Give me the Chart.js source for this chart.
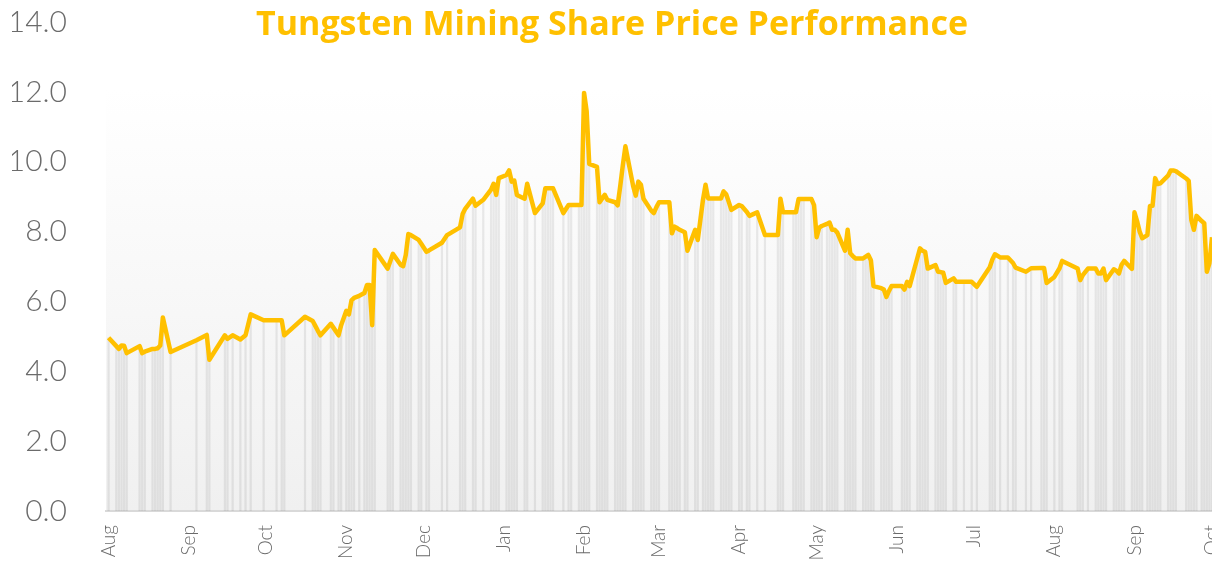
<!DOCTYPE html>
<html>
<head>
<meta charset="utf-8">
<script src="https://cdn.jsdelivr.net/npm/chart.js@4.4.1/dist/chart.umd.min.js"></script>
<style>
  html, body { margin: 0; padding: 0; background: #fff; overflow: hidden; }
  #wrap { position: relative; width: 1212px; height: 565px; }
</style>
</head>
<body>
<div id="wrap"><canvas id="priceChart"></canvas></div>
<script>
// days counted from 1 Aug, one entry per trading day shown in the chart
var days = [
  0, 3, 4, 5, 6, 7, 12, 13, 14, 17, 18, 19, 20, 21, 24,
  34, 38, 39, 45, 46, 48, 51, 53, 55, 60,
  65, 67, 68, 76, 79, 80, 81, 82, 86, 87, 89, 90,
  92, 93, 94, 95, 97, 99, 100, 101, 102, 103, 108, 109, 110, 113, 114, 115, 116, 117, 120, 121,
  123, 124, 129, 131, 136, 137, 138, 141, 142, 145, 148, 149, 150, 151,
  154, 155, 156, 157, 158, 161, 162, 165, 168, 169, 170, 171, 172, 176, 178, 179, 182, 183,
  184, 185, 186, 189, 190, 191, 192, 193, 196, 197, 198, 199, 200, 203, 204, 205, 206, 207, 210, 211, 212,
  213, 217, 218, 219, 220, 221, 223, 224, 227, 228, 230, 231, 232, 233, 234, 237, 238, 239, 240, 241,
  244, 245, 247, 248, 251, 254, 259, 260, 261, 265, 266, 267, 268, 269, 272, 273,
  274, 275, 276, 278, 279, 280, 281, 282, 285, 286, 287, 288, 289, 292, 293, 294, 295, 296, 299, 300, 301, 302, 303,
  307, 308, 309, 310, 313, 314, 315, 316, 317, 320, 321, 322, 323, 324, 327, 328, 331, 334,
  336, 341, 342, 343, 345, 348, 350, 351, 355, 357, 361, 362, 363,
  366, 368, 369, 375, 376, 377, 379, 382, 383, 384, 385, 386, 389, 390, 391, 392, 393, 396,
  397, 398, 399, 400, 402, 403, 404, 405, 406, 407, 410, 411, 412, 413, 417, 418, 419, 420, 421, 423, 424, 425, 426, 427
];

var prices = [
  4.96, 4.72, 4.64, 4.74, 4.73, 4.52, 4.72, 4.52, 4.56, 4.64, 4.64, 4.66, 4.74, 5.54, 4.55,
  4.89, 5.04, 4.33, 5.03, 4.93, 5.03, 4.91, 5.03, 5.63, 5.46,
  5.46, 5.46, 5.03, 5.56, 5.44, 5.30, 5.16, 5.03, 5.36, 5.25, 5.03, 5.32,
  5.73, 5.63, 6.03, 6.10, 6.16, 6.24, 6.47, 6.47, 5.32, 7.47, 6.94, 7.15, 7.36, 7.05, 7.01, 7.33, 7.93, 7.90, 7.76, 7.65,
  7.42, 7.46, 7.68, 7.90, 8.12, 8.50, 8.65, 8.94, 8.74, 8.91, 9.20, 9.37, 9.05, 9.53,
  9.62, 9.75, 9.43, 9.46, 9.05, 8.94, 9.37, 8.53, 8.81, 9.24, 9.24, 9.24, 9.24, 8.53, 8.76, 8.76, 8.76, 8.76,
  11.97, 11.45, 9.94, 9.85, 8.84, 8.95, 9.05, 8.91, 8.84, 8.75, 9.30, 9.90, 10.44, 9.30, 9.03, 9.43, 9.34, 8.94, 8.60, 8.53, 8.70,
  8.84, 8.84, 7.95, 8.14, 8.10, 8.05, 7.98, 7.45, 8.05, 7.76, 8.90, 9.34, 8.95, 8.95, 8.95, 8.95, 9.15, 9.07, 8.85, 8.62,
  8.76, 8.73, 8.56, 8.45, 8.55, 7.90, 7.90, 8.94, 8.55, 8.55, 8.55, 8.93, 8.93, 8.93, 8.93, 8.76,
  7.84, 8.11, 8.16, 8.22, 8.26, 8.05, 8.05, 7.97, 7.45, 8.05, 7.38, 7.30, 7.23, 7.23, 7.28, 7.33, 7.18, 6.44, 6.38, 6.34, 6.13, 6.30, 6.44,
  6.44, 6.34, 6.56, 6.44, 7.25, 7.52, 7.45, 7.42, 6.94, 7.04, 6.85, 6.84, 6.82, 6.53, 6.66, 6.56, 6.56, 6.56,
  6.42, 6.98, 7.20, 7.35, 7.26, 7.26, 7.10, 6.97, 6.85, 6.95, 6.96, 6.96, 6.53,
  6.70, 6.95, 7.16, 6.94, 6.61, 6.75, 6.94, 6.94, 6.80, 6.80, 6.94, 6.61, 6.92, 6.88, 6.80, 7.05, 7.16, 6.93,
  8.55, 8.30, 8.00, 7.81, 7.90, 8.73, 8.74, 9.53, 9.36, 9.38, 9.60, 9.75, 9.75, 9.73, 9.52, 9.45, 8.33, 8.05, 8.45, 8.30, 8.24, 6.85, 7.09, 7.84
];

var monthStarts = [0, 31, 61, 92, 122, 153, 184, 213, 244, 274, 305, 335, 366, 397, 427];
var monthLabels = ['Aug', 'Sep', 'Oct', 'Nov', 'Dec', 'Jan', 'Feb', 'Mar', 'Apr', 'May', 'Jun', 'Jul', 'Aug', 'Sep', 'Oct'];

var chartTitle = 'Tungsten Mining Share Price Performance';
var shadeFrom = 12.1;

var points = days.map(function (d, i) { return { x: d, y: prices[i] }; });

var plotShade = {
  id: 'plotShade',
  beforeDraw: function (chart) {
    var a = chart.chartArea, ctx = chart.ctx;
    var top = chart.scales.y.getPixelForValue(shadeFrom);
    var g = ctx.createLinearGradient(0, top, 0, a.bottom);
    g.addColorStop(0, '#ffffff');
    g.addColorStop(1, '#f0f0f0');
    ctx.save();
    ctx.fillStyle = g;
    ctx.fillRect(a.left, top, a.right - a.left, a.bottom - top);
    ctx.restore();
  }
};

var titleText = {
  id: 'titleText',
  afterDraw: function (chart) {
    var ctx = chart.ctx;
    ctx.save();
    ctx.font = 'bold 30px "Open Sans"';
    var size = 30 * 712 / ctx.measureText(chartTitle).width;
    ctx.font = 'bold ' + size.toFixed(1) + 'px "Open Sans"';
    ctx.fillStyle = '#FFC000';
    ctx.textAlign = 'center';
    ctx.textBaseline = 'alphabetic';
    ctx.fillText(chartTitle, 612, 35);
    ctx.restore();
  }
};

var ctx = document.getElementById('priceChart').getContext('2d');
var myChart = new Chart(ctx, {
  type: 'line',
  data: {
    datasets: [{
      type: 'line',
      label: 'Share price',
      data: points,
      borderColor: '#FFC000',
      borderWidth: 4.5,
      borderJoinStyle: 'round',
      pointRadius: 0,
      tension: 0,
      order: 0
    }, {
      type: 'bar',
      label: 'Trading days',
      data: points,
      backgroundColor: 'rgba(0,0,0,0.075)',
      barThickness: 1.6,
      order: 1
    }]
  },
  options: {
    responsive: true,
    maintainAspectRatio: false,
    animation: false,
    devicePixelRatio: 1,
    layout: { padding: { left: 12, top: 22, right: 0, bottom: 0 } },
    plugins: {
      legend: { display: false },
      tooltip: { enabled: false },
      title: { display: false }
    },
    scales: {
      x: {
        type: 'linear',
        min: -1,
        max: 427,
        offset: false,
        grid: { display: false, drawTicks: false },
        border: { display: true, color: '#d9d9d9', width: 2 },
        afterBuildTicks: function (s) {
          s.ticks = monthStarts.map(function (v) { return { value: v }; });
        },
        afterFit: function (s) {
          s.height = 54;
          s.paddingLeft = 0;
          s.paddingRight = 0;
        },
        ticks: {
          autoSkip: false,
          maxRotation: 90,
          minRotation: 90,
          padding: 14,
          color: '#6b6b6b',
          font: { family: 'Lato', size: 19, weight: '300' },
          callback: function (v) {
            var i = monthStarts.indexOf(v);
            return i < 0 ? '' : monthLabels[i];
          }
        }
      },
      y: {
        min: 0,
        max: 14,
        grid: { display: false, drawTicks: false },
        border: { display: false },
        afterFit: function (s) {
          s.width = 94;
          s.paddingTop = 0;
          s.paddingBottom = 0;
        },
        ticks: {
          stepSize: 2,
          padding: 39,
          color: '#6b6b6b',
          font: { family: 'Lato', size: 30, weight: '300' },
          callback: function (v) { return v.toFixed(1); }
        }
      }
    }
  },
  plugins: [plotShade, titleText]
});
</script>
</body>
</html>
